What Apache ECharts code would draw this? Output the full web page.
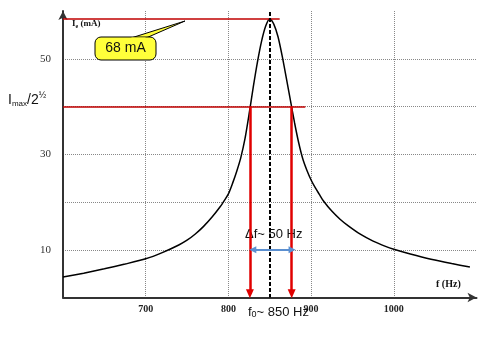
<!DOCTYPE html>
<html><head><meta charset="utf-8">
<script src="https://cdn.jsdelivr.net/npm/echarts@6/dist/echarts.min.js"></script>
<style>html,body{margin:0;padding:0;background:#fff}#c{width:489px;height:348px}</style>
</head><body><div id="c"></div>
<script>
// Frequency (Hz) and current (grid units)
const freq = [600,625,650,675,700,720,740,750,760,770,780,790,795,800,805,810,815,820,825,830,835,840,845,850,855,860,865,870,875,880,885,890,895,900,905,910,915,925,935,945,960,975,990,1000,1020,1045,1070,1092];
const current = [4.3,5.1,6.0,7.0,8.1,9.4,11.0,12.0,13.3,14.9,16.8,19.0,20.3,21.7,23.9,26.4,29.3,33.2,38.4,44.0,49.2,53.6,56.8,58.4,57.2,54.6,50.6,46.0,41.3,36.6,32.4,29.0,26.6,24.6,23.0,21.6,20.2,18.1,16.4,15.0,13.2,11.8,10.7,10.1,9.1,8.0,7.1,6.4];
const xTickLabels = [700,800,900,1000];
const yTickLabels = [10,30,50];
const peakI = 58.4, halfI = 40, f0 = 850, fLow = 826, fHigh = 876.5;
const deltaArrow = [829.5, 877], deltaLevel = 10;

const chart = echarts.init(document.getElementById('c'), null, {renderer:'canvas'});
const serif = '"Liberation Serif","Times New Roman",serif';
const sans = '"Liberation Sans",Arial,sans-serif';
const data = freq.map((f,i)=>[f,current[i]]);

chart.setOption({
  animation:false,
  grid:{left:63,right:12.5,top:11,bottom:50.5},
  xAxis:{type:'value',min:600,max:1100,interval:100,
    axisLine:{show:true,symbol:['none','arrow'],symbolSize:[7,9],lineStyle:{color:'#333',width:2}},
    axisTick:{show:false},
    axisLabel:{margin:7,color:'#222',fontFamily:serif,fontWeight:'bold',fontSize:10,
      formatter:v=>xTickLabels.includes(v)?String(v):''},
    splitLine:{show:true,showMinLine:false,showMaxLine:false,lineStyle:{color:'#888',type:[1,1],width:1}}
  },
  yAxis:{type:'value',min:0,max:60,interval:10,
    axisLine:{show:true,symbol:['none','arrow'],symbolSize:[7,9],lineStyle:{color:'#333',width:2}},
    axisTick:{show:false},
    axisLabel:{margin:12,color:'#333',fontFamily:serif,fontSize:11,
      formatter:v=>yTickLabels.includes(v)?String(v):''},
    splitLine:{show:true,showMinLine:false,showMaxLine:false,lineStyle:{color:'#888',type:[1,1],width:1}}
  },
  series:[
    {type:'line',data:data,smooth:0.25,showSymbol:false,symbol:'none',
     lineStyle:{color:'#000',width:1.5},z:3,
     markLine:{silent:true,animation:false,label:{show:false},
       data:[
         [{coord:[600,peakI],symbol:'none',lineStyle:{color:'#c00000',width:1.5,type:'solid'}},{coord:[862,peakI],symbol:'none'}],
         [{coord:[600,halfI],symbol:'none',lineStyle:{color:'#c00000',width:1.5,type:'solid'}},{coord:[893,halfI],symbol:'none'}],
         [{coord:[fLow,halfI],symbol:'none',lineStyle:{color:'#e00000',width:2.5,type:'solid'}},{coord:[fLow,0.8],symbol:'triangle',symbolSize:[8,9]}],
         [{coord:[fHigh,halfI],symbol:'none',lineStyle:{color:'#e00000',width:2.5,type:'solid'}},{coord:[fHigh,0.8],symbol:'triangle',symbolSize:[8,9]}],
         [{coord:[f0,59.8],symbol:'none',lineStyle:{color:'#000',width:2,type:[4,2]}},{coord:[f0,0],symbol:'none'}],
         [{coord:[deltaArrow[0],deltaLevel],symbol:'triangle',symbolSize:[7,7],lineStyle:{color:'#5b8fd0',width:2,type:'solid'}},{coord:[deltaArrow[1],deltaLevel],symbol:'triangle',symbolSize:[7,7]}]
       ]}
    }
  ],
  graphic:[
    {type:'polygon',shape:{points:[[131,38],[146,38],[185,21]]},style:{fill:'#ffff3a',stroke:'#000',lineWidth:1},z:10},
    {type:'rect',shape:{x:95,y:37,width:61,height:23,r:6},style:{fill:'#ffff3a',stroke:'#000',lineWidth:1},z:11},
    {type:'rect',shape:{x:131.5,y:37.5,width:14,height:2},style:{fill:'#ffff3a'},z:12},
    {type:'text',x:125.5,y:48.5,z:13,style:{text:'68 mA',font:'14px '+sans,fill:'#111',align:'center',verticalAlign:'middle'}},
    {type:'text',x:72,y:24,z:13,style:{text:'{b|I}{s|e}{b| (mA)}',verticalAlign:'middle',
      rich:{b:{fontFamily:serif,fontWeight:'bold',fontSize:9,fill:'#111'},s:{fontFamily:serif,fontWeight:'bold',fontSize:6,fill:'#111',padding:[4,0,0,0]}}}},
    {type:'text',x:8,y:100,z:13,style:{text:'{n|I}{sub|max}{n|/2}{sup|½}',verticalAlign:'middle',
      rich:{n:{fontFamily:sans,fontSize:14,fill:'#111'},sub:{fontFamily:sans,fontSize:8,fill:'#111',padding:[8,0,0,0]},sup:{fontFamily:sans,fontSize:9,fill:'#111',padding:[0,0,8,0]}}}},
    {type:'text',x:436,y:284,z:13,style:{text:'f (Hz)',font:'bold 10px '+serif,fill:'#111',verticalAlign:'middle'}},
    {type:'text',x:245,y:234.5,z:2,style:{text:'Δf~ 50 Hz',font:'13px '+sans,fill:'#111',verticalAlign:'middle'}},
    {type:'text',x:248,y:312,z:13,style:{text:'{n|f}{sub|0}{n|~ 850 Hz}',verticalAlign:'middle',
      rich:{n:{fontFamily:sans,fontSize:13,fill:'#111'},sub:{fontFamily:sans,fontSize:9,fill:'#111',padding:[6,0,0,0]}}}}
  ]
});
</script></body></html>
